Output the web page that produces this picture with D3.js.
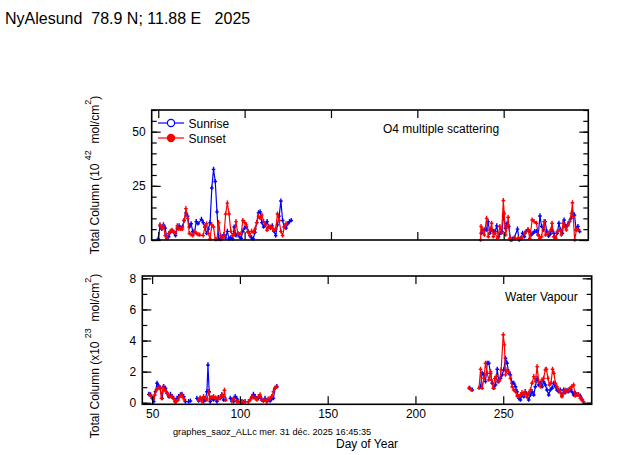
<!DOCTYPE html>
<html>
<head>
<meta charset="utf-8">
<script src="https://cdn.jsdelivr.net/npm/d3@7"></script>
<style>
  body { margin: 0; background: #fff; }
  svg text { font-family: "Liberation Sans", Arial, sans-serif; fill: #000; }
</style>
</head>
<body>
<svg id="chart" width="623" height="455"></svg>
<script>
// ---- data: [day of year, value] ----
// O4 total column (10^42 mol/cm^2)
var o4Sunrise = [
  [50,0.5],[51,6.5],[52,5],[53,7],[54,5.5],[55,0.7],[56,1.5],[57,3.5],[58,4],[59,3.5],[60,2],
  [61,5.5],[62,6.5],[63,5.5],[64,6],[65,9],[66,12.5],[67,11],[68,6],[69,7.5],[70,4],[71,3.5],
  [72,8.5],[73,7.5],[75,9.5],[76,8],[77,6],[78,3],[79,5],[80,8],[81,24],[82,32.6],[83,27],
  [84,13],[85,0.5],[86,0.3],[87,1.5],[88,2.5],[89,1],[90,4],[91,0.5],[92,1],[93,0.5],[94,6],
  [95,2],[96,3],[97,1.5],[98,0.8],[99,4],[100,5.5],[101,6],[102,4],[103,2],[104,1],[105,0.5],
  [106,3.5],[107,8],[108,12.5],[109,13],[110,8],[111,6],[112,7],[113,8.5],[114,6],[115,5.5],
  [116,6.5],[117,4],[118,2],[119,7],[120,11],[121,18],[122,9],[123,6],[124,5.5],[125,7.5],
  [126,8.5],[127,9],
  [237,3.1],[238,4.6],[239,4.6],[240,4.6],[241,8.5],[242,3.1],[243,4.6],[244,3.9],[245,3.9],
  [246,6.5],[247,1.5],[248,3.1],[249,3.9],[250,12],[251,5.4],[252,7.7],[253,6.2],[254,0],
  [255,0.3],[256,0.8],[258,5],[259,0],[260,0.8],[261,3.1],[262,1.5],[263,3.9],[264,4.6],
  [265,3.9],[266,2.3],[267,3.1],[268,3.9],[269,3.9],[270,2.3],[271,11.1],[272,6.2],[273,4.6],
  [274,8.5],[275,3.9],[276,1.8],[277,2.8],[278,4.6],[279,3.1],[280,0.8],[281,3.1],[282,7.7],
  [283,4.6],[284,3.1],[285,9.2],[286,6.2],[287,6.9],[288,8.5],[289,10],[290,12.3],[291,11.5],
  [292,4.6],[293,6.2],[294,3.9]
];
var o4Sunset = [
  [51,7],[52,5.5],[53,6.5],[54,2],[55,1],[56,3],[57,4],[58,4.5],[59,3.5],[60,3],[61,6.5],
  [62,5],[63,5],[64,5],[65,9],[66,14.5],[67,10],[68,3],[69,2.5],[70,2],[71,3.5],[72,3],
  [73,2.5],[74,2.3],[76,2],[77,6],[78,7.5],[79,3],[80,0.5],[81,7],[82,6],[83,0.3],[84,0.2],
  [85,8],[86,2],[87,0.5],[88,1.5],[89,12],[90,17],[91,12],[92,4],[93,2],[94,2.5],[95,8.5],
  [96,3],[97,2.5],[98,3],[99,9],[100,8],[101,7],[102,3.5],[103,2],[104,4],[105,3.5],[106,5],
  [107,8],[108,11],[109,10],[110,11.5],[111,8.5],[112,7],[113,4.5],[114,6],[115,6],[116,5.5],
  [117,4.5],[118,5],[119,12],[120,9],[121,4],[122,2],[123,6],[124,7.5],
  [236.6,0],[236.9,6.2],[237.6,4.6],[238.8,2.3],[240.1,10],[241.1,1.5],[242.1,4.6],[243,7.7],
  [244,1.5],[245,3.1],[246.5,0.8],[247.8,6.2],[248.8,3.1],[249.8,18.2],[250.3,12.3],
  [251.1,2.3],[252.1,6.2],[252.6,10.5],[253.6,0.8],[254.6,0],[256.5,0.8],[258.4,0.8],
  [260.3,0.8],[262.3,3.1],[264.2,4.6],[265.1,0.8],[266.5,9.2],[267.6,8.5],[269,7.7],[270,2.3],
  [270.9,0.8],[271.9,1.5],[273.4,8.5],[274.2,2.3],[275.7,3.1],[277.3,4.6],[278,7.7],[279,1.5],
  [280,0.8],[281.1,3.9],[282.5,4.6],[283.4,2.3],[284.4,7.7],[285.3,6.2],[286.3,4.6],
  [287.3,6.9],[288.2,8.5],[289.2,12.3],[289.8,17.2],[290.3,10.8],[291.1,0],[292.1,4.6],[293,4.6]
];
// water vapour total column (x10^23 mol/cm^2)
var h2oSunrise = [
  [48.1,0.54],[49.1,0.5],[50,0.28],[50.9,0.07],[51.9,0.71],[52.8,1.25],[53.8,1.04],[54.7,0.93],
  [55.7,0.28],[56.6,1.04],[57.6,0.93],[58.5,0.61],[59.5,0.39],[60.4,0.54],[61.4,0.39],
  [62.3,0.28],[63.2,0.07],[64.2,0.28],[65.1,0.39],[66.1,0.5],[67,0.54],[68,0.39],[68.9,0.07],
  [70.8,0.07],[71.8,0.11],[75.5,0.28],[76.5,0.11],[77.4,0.28],[78.4,0.24],[79.3,0.07],
  [80.3,0.18],[81.2,0.71],[81.8,2.43],[82.5,0.71],[83.1,0.07],[84.1,0.28],[85,0.18],[86,0.28],
  [86.9,0.07],[87.8,0.33],[88.8,0.28],[89.7,0.5],[90.7,0.18],[91.6,0.18],[94.5,0.28],
  [95.4,0.18],[96.4,0.07],[97.3,0.39],[98.2,0.28],[99.2,0.07],[101.1,0.07],[102,0.03],
  [103,0.07],[104.9,0.07],[106.8,0.33],[107.7,0.54],[108.7,0.39],[109.6,0.24],[110.5,0.28],
  [111.5,0.39],[112.4,0.18],[113.4,0.11],[114.3,0.28],[115.3,0.07],[116.2,0.18],[117.2,0.11],
  [118.1,0.24],[119.1,0.28],[120,0.93],[121,1.04],
  [230.9,0.93],[232.4,0.82],[237.1,1.03],[238,1.89],[239,1.79],[239.9,1.36],[240.9,2.54],
  [241.8,2.54],[242.8,1.89],[243.7,1.25],[244.7,0.93],[245.6,1.14],[246.6,2.15],[247.5,1.36],
  [248.5,1.57],[249.4,1.79],[250.3,2.11],[251.3,2.86],[252.2,2.54],[253.2,1.89],[254.1,1.79],
  [255.1,1.25],[256,1.25],[257,1.03],[257.9,0.71],[258.9,0.28],[259.8,0.18],[260.7,0.5],
  [261.7,0.39],[262.6,0.71],[263.6,0.5],[264.5,0.18],[265.5,0.5],[266.4,0.71],[267.4,0.5],
  [268.3,1.03],[269.3,1.57],[270.2,1.14],[271.2,1.25],[272.1,1.03],[273,1.36],[274,1.14],
  [274.9,0.82],[275.9,0.5],[276.8,0.82],[277.8,0.93],[278.7,1.25],[279.7,1.03],[280.6,0.82],
  [281.6,0.71],[282.5,0.82],[283.4,0.43],[284.4,0.82],[285.3,0.65],[286.3,0.78],[287.2,0.71],
  [288.2,0.86],[289.1,0.71],[290.1,0.5],[291,0.6],[292,0.5],[292.9,0.5],[293.9,0.43],
  [294.8,0.22],[295.7,0.07]
];
var h2oSunset = [
  [48.5,0.5],[49.6,0.39],[50.6,0.28],[51.5,0.5],[52.5,0.82],[53.4,0.93],[54.4,0.97],[55.3,0.28],
  [56.3,1.0],[57.2,0.82],[58.1,0.71],[59.1,0.5],[60,0.39],[61,0.39],[61.9,0.28],[62.9,0.07],
  [63.8,0.07],[64.8,0.18],[65.7,0.39],[66.7,0.5],[67.6,0.33],[68.5,0.18],
  [76.5,0.18],[77.4,0.28],[78.4,0.07],[79.3,0.39],[80.3,0.28],[81.2,0.18],[82.2,0.65],
  [83.1,0.28],[84.1,0.33],[85,0.39],[86,0.28],[86.9,0.28],[87.8,0.24],[88.8,0.33],[89.7,0.5],
  [90.7,0.39],[91.2,0.8],[92,0.18],[95.4,0.07],[96.4,0.28],[98.2,0.07],[99.2,0.07],[101.1,0.07],
  [102,0],[103,0.07],[104.9,0.07],[105.8,0.18],[106.8,0.39],[107.7,0.33],[108.7,0.28],
  [109.6,0.18],[110.5,0.39],[111.5,0.5],[112.4,0.18],[113.4,0.11],[114.3,0.18],[115.3,0.07],
  [116.2,0.24],[117.2,0.28],[118.1,0.39],[119.1,0.71],[120,0.93],[121,1.0],
  [230.5,0.93],[231.8,0.82],[236.2,0.93],[237.1,2.15],[238,0.93],[239,1.57],[239.9,2.54],
  [240.9,1.89],[241.8,1.46],[242.8,2.0],[243.3,1.46],[244.3,0.93],[245.2,1.57],[246,1.68],
  [246.9,1.36],[247.9,1.46],[248.8,2.11],[250,4.37],[250.7,3.72],[251.3,1.79],[252.2,2.11],
  [253.2,2.0],[254.1,1.57],[255.1,1.03],[256,0.82],[257,0.71],[257.9,0.43],[258.9,0.39],
  [259.8,0.5],[260.7,0.65],[261.7,0.5],[262.6,0.71],[263.6,0.35],[264.5,0.6],[265.5,0.82],
  [266.4,1.25],[267.4,1.68],[268.3,1.36],[269.3,2.32],[270.2,1.36],[271.2,1.03],[272.1,1.46],
  [273,1.57],[274,2.11],[274.6,2.15],[275.5,1.57],[276.3,1.14],[277.2,1.25],[278.1,2.15],
  [278.9,1.89],[279.7,1.25],[280.6,1.03],[281.6,0.82],[282.5,0.65],[283.4,0.39],[284.4,0.6],
  [285.3,0.82],[286.3,0.71],[287.2,0.82],[288.2,0.93],[289.1,1.03],[290.1,1.14],[291,0.43],
  [292,0.5],[292.9,0.5],[293.9,0.28],[294.8,0.18],[295.7,0.07]
];

var xTicks = [50, 100, 150, 200, 250];
var o4MajorTicks = [0, 25, 50];
var h2oMajorTicks = [0, 2, 4, 6, 8];

var BLUE = "#0000ff", RED = "#ff0000";
var svg = d3.select("#chart");

// split a series wherever the day gap is too big (no line across missing days)
function segments(data, maxGap) {
    var out = [], cur = [];
    data.forEach(function(d, i) {
        if (i > 0 && d[0] - data[i - 1][0] > maxGap) { out.push(cur); cur = []; }
        cur.push(d);
    });
    if (cur.length) out.push(cur);
    return out;
}

function drawPanel(p) {
    var x = d3.scaleLinear().domain(p.xDomain).range([p.left, p.right]);
    var y = d3.scaleLinear().domain(p.yDomain).range([p.bottom, p.top]);
    var g = svg.append("g");

    var line = d3.line()
        .x(function(d) { return x(d[0]); })
        .y(function(d) { return y(d[1]); });

    // sunrise first, sunset on top
    [[p.rise, BLUE], [p.set, RED]].forEach(function(s) {
        g.selectAll(null)
            .data(segments(s[0], 2.6))
            .enter().append("path")
            .attr("d", line)
            .attr("fill", "none")
            .attr("stroke", s[1])
            .attr("stroke-width", 1.2);
        g.selectAll(null)
            .data(s[0])
            .enter().append("path")
            .attr("transform", function(d) { return "translate(" + x(d[0]) + "," + y(d[1]) + ")"; })
            .attr("d", "M-1.8,0H1.8M0,-2.6V1.8")
            .attr("stroke", s[1])
            .attr("stroke-width", 1.4);
    });

    // axes: all ticks point inside the box
    var minor = d3.range(p.yDomain[0] < 0 ? 0 : p.yDomain[0], p.yMax + 0.001, p.minorStep);
    g.append("g").attr("transform", "translate(" + p.left + ",0)")
        .call(d3.axisLeft(y).tickValues(minor).tickSizeInner(-5).tickSizeOuter(0).tickFormat(""));
    g.append("g").attr("transform", "translate(" + p.left + ",0)")
        .call(d3.axisLeft(y).tickValues(p.major).tickSizeInner(-9).tickSizeOuter(0).tickPadding(6).tickFormat(d3.format("d")));
    g.append("g").attr("transform", "translate(" + p.right + ",0)")
        .call(d3.axisRight(y).tickValues(minor).tickSizeInner(-5).tickSizeOuter(0).tickFormat(""));
    g.append("g").attr("transform", "translate(" + p.right + ",0)")
        .call(d3.axisRight(y).tickValues(p.major).tickSizeInner(-9).tickSizeOuter(0).tickFormat(""));
    g.append("g").attr("transform", "translate(0," + p.top + ")")
        .call(d3.axisTop(x).tickValues(xTicks).tickSizeInner(-8).tickSizeOuter(0).tickFormat(""));
    g.append("g").attr("transform", "translate(0," + p.bottom + ")")
        .call(d3.axisBottom(x).tickValues(xTicks).tickSizeInner(-8).tickSizeOuter(0).tickPadding(5)
            .tickFormat(p.xLabels ? d3.format("d") : ""));

    g.selectAll(".domain").remove();
    g.selectAll(".tick line").attr("stroke", "#000").attr("stroke-width", 1.2);
    g.selectAll(".tick text").style("font-size", "12px").attr("fill", "#000");

    g.append("rect")
        .attr("x", p.left).attr("y", p.top)
        .attr("width", p.right - p.left).attr("height", p.bottom - p.top)
        .attr("fill", "none").attr("stroke", "#000").attr("stroke-width", 1.6);

    g.append("text")
        .attr("x", p.noteX).attr("y", p.noteY)
        .style("font-size", "12px")
        .text(p.note);
}

drawPanel({
    left: 151.7, right: 588.3, top: 110, bottom: 240,
    xDomain: [46.2, 299], yDomain: [0, 60], yMax: 60,
    minorStep: 5, major: o4MajorTicks, xLabels: false,
    rise: o4Sunrise, set: o4Sunset,
    note: "O4 multiple scattering", noteX: 383, noteY: 133
});

drawPanel({
    left: 142.3, right: 591.7, top: 276, bottom: 404.3,
    xDomain: [44.4, 300.4], yDomain: [-0.1, 8.15], yMax: 8,
    minorStep: 1, major: h2oMajorTicks, xLabels: true,
    rise: h2oSunrise, set: h2oSunset,
    note: "Water Vapour", noteX: 505, noteY: 301
});

// legend
var legend = svg.append("g");
legend.append("line").attr("x1", 158).attr("x2", 184).attr("y1", 123).attr("y2", 123)
    .attr("stroke", BLUE).attr("stroke-width", 1.2);
legend.append("circle").attr("cx", 171).attr("cy", 123).attr("r", 3.6)
    .attr("fill", "#fff").attr("stroke", BLUE).attr("stroke-width", 1.2);
legend.append("text").attr("x", 188.5).attr("y", 127.5).style("font-size", "12px").text("Sunrise");
legend.append("line").attr("x1", 158).attr("x2", 184).attr("y1", 138).attr("y2", 138)
    .attr("stroke", RED).attr("stroke-width", 1.2);
legend.append("circle").attr("cx", 171).attr("cy", 138).attr("r", 4.2).attr("fill", RED);
legend.append("text").attr("x", 188.5).attr("y", 142.5).style("font-size", "12px").text("Sunset");

// title and labels
svg.append("text").attr("x", 5).attr("y", 24).style("font-size", "16px")
    .attr("xml:space", "preserve")
    .text("NyAlesund  78.9 N; 11.88 E   2025");

function yLabel(cx, cy, pre, sup1, mid, sup2) {
    var t = svg.append("text")
        .attr("transform", "translate(" + cx + "," + cy + ") rotate(-90)")
        .attr("text-anchor", "middle")
        .attr("xml:space", "preserve")
        .style("font-size", "12px");
    t.append("tspan").text(pre);
    t.append("tspan").attr("dy", -8).style("font-size", "9px").text(sup1);
    t.append("tspan").attr("dy", 8).text(mid);
    t.append("tspan").attr("dy", -8).style("font-size", "9px").text(sup2);
    t.append("tspan").attr("dy", 8).text(")");
}
yLabel(98.5, 175, "Total Column (10 ", "42", "  mol/cm", "2");
yLabel(98.5, 356, "Total Column (x10 ", "23", "  mol/cm", "2");

svg.append("text").attr("x", 173).attr("y", 434.5).style("font-size", "9.2px")
    .text("graphes_saoz_ALLc mer. 31 déc. 2025 16:45:35");
svg.append("text").attr("x", 336).attr("y", 447.5).style("font-size", "12px")
    .text("Day of Year");
</script>
</body>
</html>
